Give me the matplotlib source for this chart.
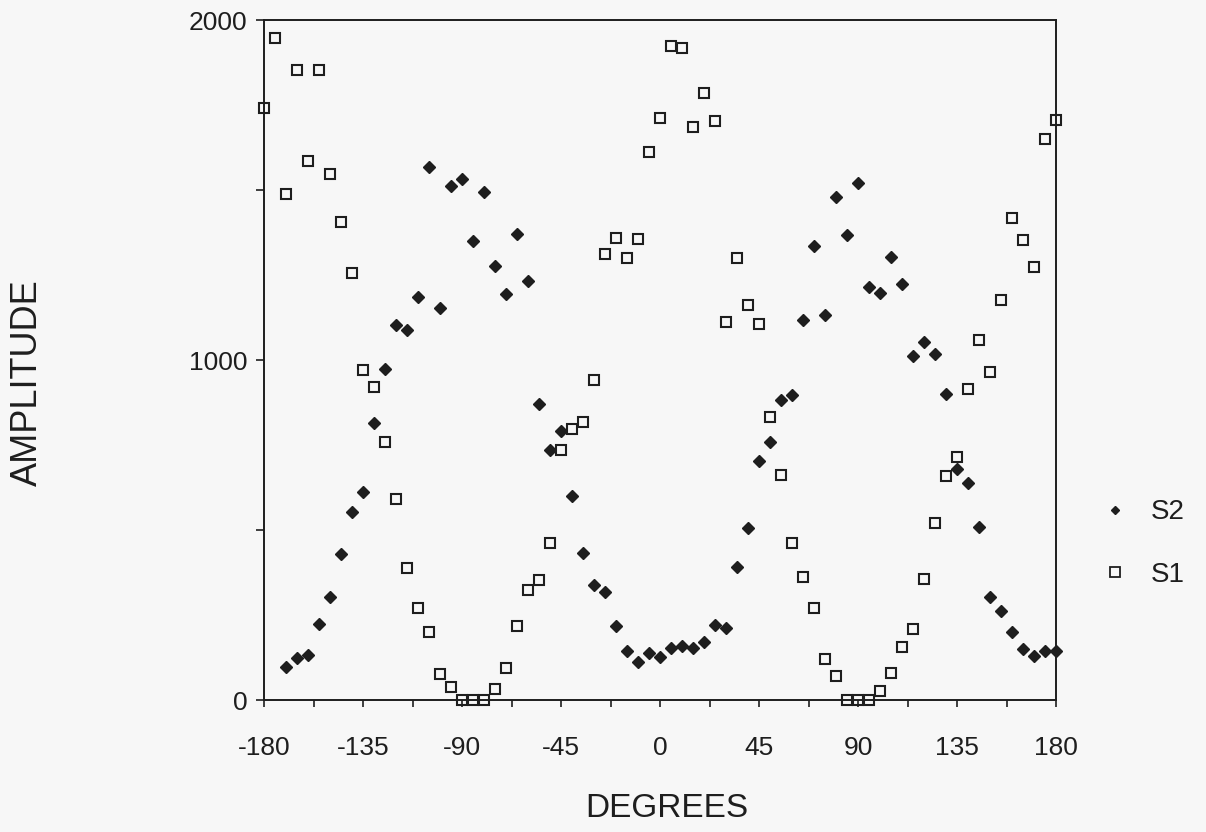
import matplotlib
matplotlib.use("Agg")
import matplotlib.pyplot as plt
from matplotlib.lines import Line2D
from matplotlib.ticker import MultipleLocator

# angles (5 degree steps)
ANGLES_S1 = [-180, -175, -170, -165, -160, -155, -150, -145, -140, -135, -130, -125,
             -120, -115, -110, -105, -100, -95, -90, -85, -80, -75, -70, -65,
             -60, -55, -50, -45, -40, -35, -30, -25, -20, -15, -10, -5,
             0, 5, 10, 15, 20, 25, 30, 35, 40, 45, 50, 55,
             60, 65, 70, 75, 80, 85, 90, 95, 100, 105, 110, 115,
             120, 125, 130, 135, 140, 145, 150, 155, 160, 165, 170, 175, 180]
S1 = [1742, 1948, 1487, 1853, 1586, 1853, 1548, 1406, 1257, 972, 921, 760,
      592, 387, 270, 199, 76, 37, 0, 0, 0, 32, 93, 218,
      324, 354, 461, 735, 796, 817, 940, 1313, 1358, 1301, 1357, 1613,
      1712, 1924, 1918, 1685, 1786, 1703, 1113, 1300, 1163, 1107, 833, 661,
      462, 361, 270, 122, 72, 0, 0, 0, 27, 78, 157, 208,
      355, 522, 659, 715, 915, 1059, 965, 1176, 1417, 1353, 1273, 1650, 1706]

ANGLES_S2 = ANGLES_S1[2:]
S2 = [98, 125, 131, 224, 304, 429, 552, 611, 816, 974, 1102, 1089,
      1184, 1568, 1152, 1512, 1532, 1351, 1494, 1276, 1195, 1371, 1233, 872,
      735, 791, 599, 431, 337, 317, 217, 145, 112, 139,
      126, 153, 158, 152, 171, 220, 212, 392, 505, 703, 759, 881,
      896, 1119, 1336, 1132, 1479, 1367, 1522, 1216, 1198, 1302, 1223, 1013,
      1054, 1017, 899, 680, 639, 510, 304, 262, 201, 151, 129, 143, 143]

XTICKS = [-180, -135, -90, -45, 0, 45, 90, 135, 180]
YTICKS = [0, 1000, 2000]

INK = '#1e1e1e'
BG = '#f7f7f7'

plt.rcParams['font.family'] = ['Liberation Sans', 'DejaVu Sans']

fig = plt.figure(figsize=(12.06, 8.32), dpi=100, facecolor=BG)
ax = fig.add_axes([264 / 1206, 1 - 700 / 832, 792 / 1206, 680 / 832])
ax.set_facecolor(BG)

ax.plot(ANGLES_S2, S2, linestyle='none', marker='D', ms=5.8, color=INK,
        mec=INK, clip_on=False, zorder=3)
ax.plot(ANGLES_S1, S1, linestyle='none', marker='s', ms=6.8, mfc='none',
        mec=INK, mew=1.5, clip_on=False, zorder=3)

ax.set_xlim(-180, 180)
ax.set_ylim(0, 2000)
ax.set_xticks(XTICKS)
ax.set_xticklabels([str(t) for t in XTICKS])
ax.xaxis.set_minor_locator(MultipleLocator(22.5))
ax.set_yticks(YTICKS)
ax.set_yticklabels([str(t) for t in YTICKS])
ax.yaxis.set_minor_locator(MultipleLocator(500))

for s in ax.spines.values():
    s.set_linewidth(1.4)
    s.set_color(INK)

ax.tick_params(axis='x', which='both', direction='out', length=5, width=1.2,
               colors=INK, labelsize=19, pad=21)
ax.tick_params(axis='y', which='both', direction='out', length=6, width=1.2,
               colors=INK, labelsize=19, pad=6)

ax.set_xlabel('DEGREES', fontsize=24, color=INK)
ax.xaxis.set_label_coords(0.508, -0.137)
ax.set_ylabel('AMPLITUDE', fontsize=26, color=INK)
ax.yaxis.set_label_coords(-0.277, 0.466)

handles = [
    Line2D([], [], linestyle='none', marker='D', ms=4.2, color=INK),
    Line2D([], [], linestyle='none', marker='s', ms=6.5, mfc='none', mec=INK, mew=1.3),
]
leg = ax.legend(handles, ['S2', 'S1'], loc='center left',
                bbox_to_anchor=(1080 / 1206, 1 - 543.5 / 832),
                bbox_transform=fig.transFigure, frameon=False, fontsize=20,
                borderpad=0, handlelength=1.5, handletextpad=0.55,
                labelspacing=1.3, numpoints=1)
for t in leg.get_texts():
    t.set_color(INK)

fig.savefig('out.png', dpi=100, facecolor=BG)
